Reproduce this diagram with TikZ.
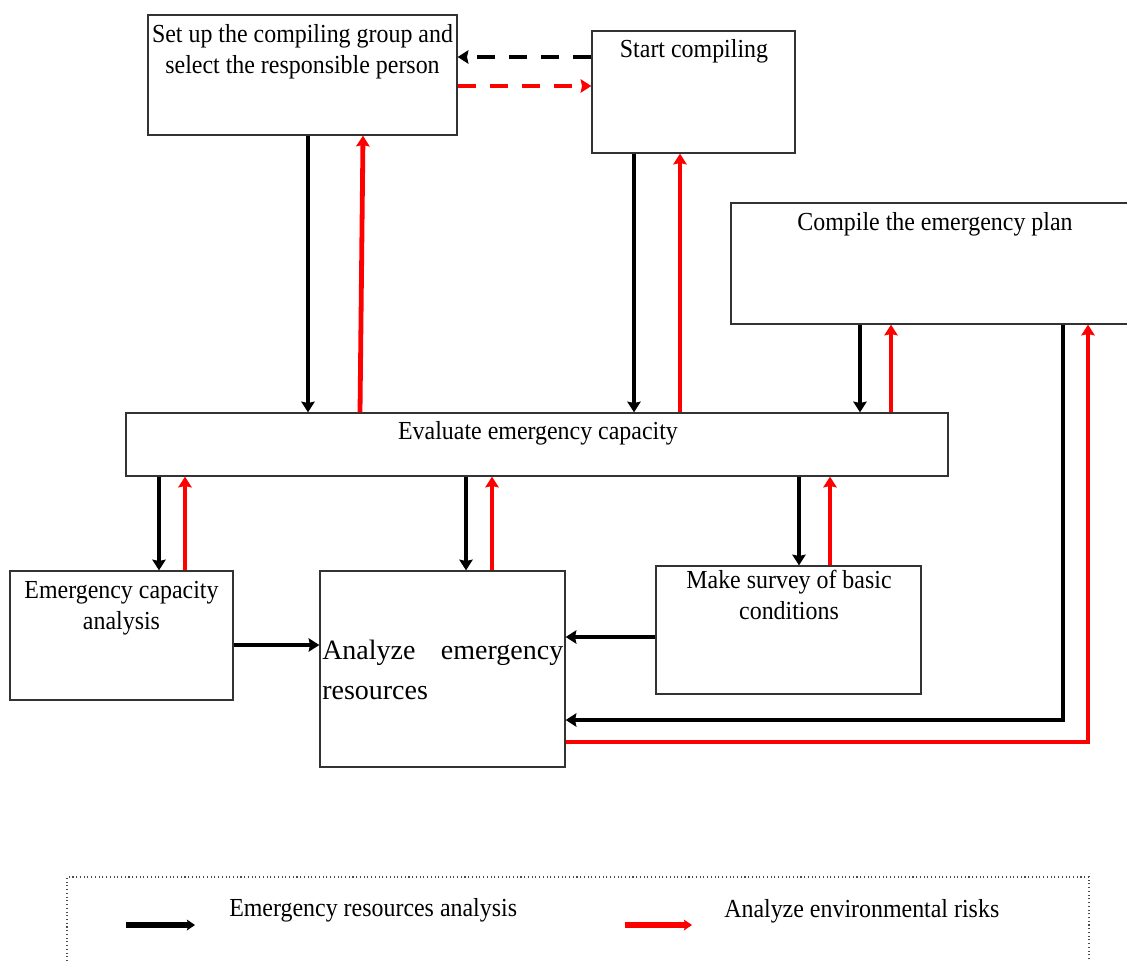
\documentclass[tikz,border=0pt]{standalone}
\usepackage{fontspec}
\setmainfont[FakeStretch=0.92]{Liberation Serif}
\newfontfamily\widefont{Liberation Serif}
\usetikzlibrary{arrows.meta,fit}
\begin{document}
\begin{tikzpicture}[x=0.75pt,y=-0.75pt,
  box/.style={draw=black!80, line width=1pt, inner sep=0pt},
  lbl/.style={inner sep=0pt, anchor=base, font=\fontsize{19.5}{23.25}\selectfont},
  flow/.style={line width=3.6pt, -{Stealth[length=8pt,width=10pt,inset=1pt]}},
  blk/.style={flow, draw=black},
  rd/.style={flow, draw=red},
  dsh/.style={dash pattern=on 14pt off 10pt},
  keyarrow/.style={line width=4.5pt, -{Stealth[length=6pt,width=8pt,inset=1pt]}}
]
\useasboundingbox (0,0) rectangle (1127,960);

% corner points of the boxes
\coordinate (a1) at (148,15);  \coordinate (a2) at (457,135);
\coordinate (b1) at (592,31);  \coordinate (b2) at (795,153);
\coordinate (c1) at (731,203); \coordinate (c2) at (1140,324);
\coordinate (d1) at (126,413); \coordinate (d2) at (948,476);
\coordinate (e1) at (10,571);  \coordinate (e2) at (233,700);
\coordinate (f1) at (320,571); \coordinate (f2) at (565,767);
\coordinate (g1) at (656,566); \coordinate (g2) at (921,694);

\node[box, fit=(a1)(a2)] (A) {};
\node[box, fit=(b1)(b2)] (B) {};
\node[box, fit=(c1)(c2)] (C) {};
\node[box, fit=(d1)(d2)] (D) {};
\node[box, fit=(e1)(e2)] (E) {};
\node[box, fit=(f1)(f2)] (F) {};
\node[box, fit=(g1)(g2)] (G) {};

% box texts
\node[lbl] (At) at (302.5,42) {\begin{tabular}[t]{@{}c@{}}Set up the compiling group and\\select the responsible person\end{tabular}};
\node[lbl] (Bt) at (694,57) {Start compiling};
\node[lbl] (Ct) at (935,230) {Compile the emergency plan};
\node[lbl] (Dt) at (538,439) {Evaluate emergency capacity};
\node[lbl] (Et) at (121.5,598) {\begin{tabular}[t]{@{}c@{}}Emergency capacity\\analysis\end{tabular}};
\node[lbl] (Gt) at (789,588) {\begin{tabular}[t]{@{}c@{}}Make survey of basic\\conditions\end{tabular}};
\node[lbl, anchor=base west, font=\widefont\fontsize{21}{30}\selectfont] (Ft) at (322,659)
  {\begin{tabular}[t]{@{}l@{}}\makebox[180.75pt][s]{Analyze emergency}\\resources\end{tabular}};

% dashed links between the two top boxes
\draw[blk, dsh] (B.west |- 0,57) -- (A.east |- 0,57);
\draw[rd, dsh] (A.east |- 0,86) -- (B.west |- 0,86);

% top boxes <-> evaluation box
\draw[blk] (308,0 |- A.south) -- (308,0 |- D.north);
\draw[rd] (360,0 |- D.north) -- (363,0 |- A.south);
\draw[blk] (634,0 |- B.south) -- (634,0 |- D.north);
\draw[rd] (680,0 |- D.north) -- (680,0 |- B.south);
\draw[blk] (860,0 |- C.south) -- (860,0 |- D.north);
\draw[rd] (891,0 |- D.north) -- (891,0 |- C.south);

% evaluation box <-> lower boxes
\draw[blk] (159,0 |- D.south) -- (159,0 |- E.north);
\draw[rd] (185,0 |- E.north) -- (185,0 |- D.south);
\draw[blk] (466,0 |- D.south) -- (466,0 |- F.north);
\draw[rd] (492,0 |- F.north) -- (492,0 |- D.south);
\draw[blk] (799,0 |- D.south) -- (799,0 |- G.north);
\draw[rd] (830,0 |- G.north) -- (830,0 |- D.south);

% horizontal links into the resources box
\draw[blk] (E.east |- 0,645) -- (F.west |- 0,645);
\draw[blk] (G.west |- 0,637) -- (F.east |- 0,637);

% long loop between the plan and the resources box
\draw[blk] (1063,0 |- C.south) -- (1063,720) -- (F.east |- 0,720);
\draw[rd] (F.east |- 0,742) -- (1088,742) -- (1088,0 |- C.south);

% key
\coordinate (k1) at (67,877);
\coordinate (k2) at (1089,975);
\node[draw=black!70, dotted, line width=0.8pt, inner sep=0pt, fit=(k1)(k2)] (K) {};
\coordinate (kb1) at (126,925); \coordinate (kb2) at (195,925);
\coordinate (kr1) at (625,925); \coordinate (kr2) at (692,925);
\draw[keyarrow, draw=black] (kb1) -- (kb2);
\draw[keyarrow, draw=red] (kr1) -- (kr2);
\node[lbl, anchor=base west] (Kb) at (229,916) {Emergency resources analysis};
\node[lbl, anchor=base west] (Kr) at (724,917) {Analyze environmental risks};
\end{tikzpicture}
\end{document}
